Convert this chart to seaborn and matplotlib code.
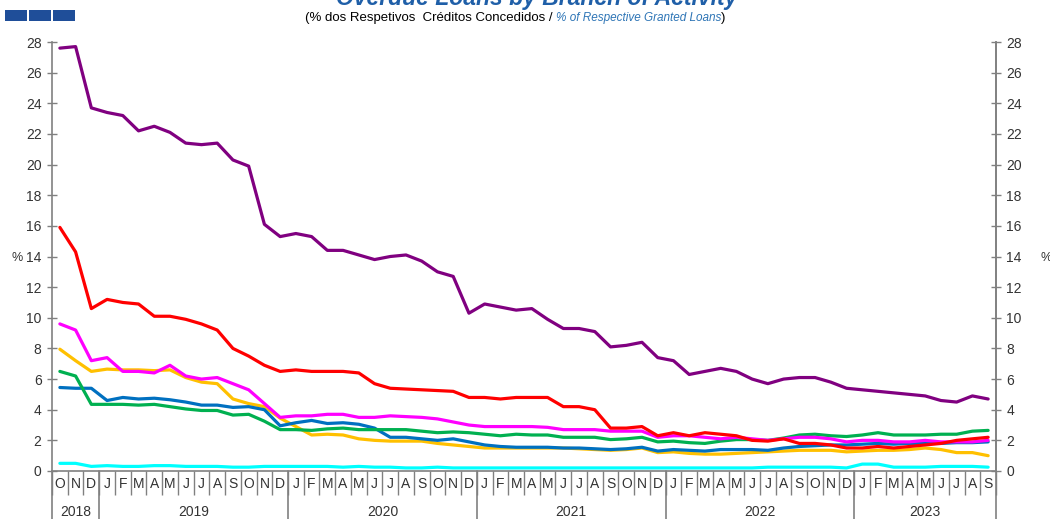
import numpy as np
import pandas as pd
import seaborn as sns
import matplotlib.pyplot as plt
from matplotlib.patches import Rectangle
from matplotlib.transforms import blended_transform_factory

# monthly series, Oct 2018 .. Sep 2023
month_letters = list("OND") + list("JFMAMJJASOND") * 4 + list("JFMAMJJAS")
years = ["2018", "2019", "2020", "2021", "2022", "2023"]
year_counts = [3, 12, 12, 12, 12, 9]

purple = [27.6, 27.7, 23.7, 23.4, 23.2, 22.2, 22.5, 22.1, 21.4, 21.3, 21.4, 20.3,
          19.9, 16.1, 15.3, 15.5, 15.3, 14.4, 14.4, 14.1, 13.8, 14.0, 14.1, 13.7,
          13.0, 12.7, 10.3, 10.9, 10.7, 10.5, 10.6, 9.9, 9.3, 9.3, 9.1, 8.1,
          8.2, 8.4, 7.4, 7.2, 6.3, 6.5, 6.7, 6.5, 6.0, 5.7, 6.0, 6.1,
          6.1, 5.8, 5.4, 5.3, 5.2, 5.1, 5.0, 4.9, 4.6, 4.5, 4.9, 4.7]
red = [15.9, 14.3, 10.6, 11.2, 11.0, 10.9, 10.1, 10.1, 9.9, 9.6, 9.2, 8.0,
       7.5, 6.9, 6.5, 6.6, 6.5, 6.5, 6.5, 6.4, 5.7, 5.4, 5.35, 5.3,
       5.25, 5.2, 4.8, 4.8, 4.7, 4.8, 4.8, 4.8, 4.2, 4.2, 4.0, 2.8,
       2.8, 2.9, 2.3, 2.5, 2.3, 2.5, 2.4, 2.3, 2.0, 1.95, 2.1, 1.8,
       1.8, 1.7, 1.5, 1.5, 1.6, 1.5, 1.6, 1.7, 1.8, 2.0, 2.1, 2.2]
magenta = [9.6, 9.2, 7.2, 7.4, 6.5, 6.5, 6.4, 6.9, 6.2, 6.0, 6.1, 5.7,
           5.3, 4.4, 3.5, 3.6, 3.6, 3.7, 3.7, 3.5, 3.5, 3.6, 3.55, 3.5,
           3.4, 3.2, 3.0, 2.9, 2.9, 2.9, 2.9, 2.85, 2.7, 2.7, 2.7, 2.6,
           2.6, 2.6, 2.2, 2.3, 2.3, 2.2, 2.1, 2.2, 2.1, 2.0, 2.1, 2.2,
           2.2, 2.1, 1.9, 2.0, 2.0, 1.9, 1.9, 2.0, 1.9, 1.9, 1.9, 2.0]
yellow = [7.95, 7.2, 6.5, 6.65, 6.6, 6.6, 6.55, 6.6, 6.1, 5.8, 5.7, 4.7,
          4.4, 4.2, 3.45, 2.9, 2.35, 2.4, 2.35, 2.1, 2.0, 1.95, 1.95, 1.95,
          1.8, 1.7, 1.6, 1.5, 1.5, 1.5, 1.5, 1.5, 1.5, 1.45, 1.4, 1.35,
          1.4, 1.5, 1.2, 1.25, 1.15, 1.1, 1.1, 1.15, 1.2, 1.25, 1.3, 1.35,
          1.35, 1.35, 1.25, 1.3, 1.35, 1.35, 1.4, 1.5, 1.4, 1.2, 1.2, 1.0]
green = [6.5, 6.2, 4.35, 4.35, 4.35, 4.3, 4.35, 4.2, 4.05, 3.95, 3.95, 3.65,
         3.7, 3.25, 2.7, 2.7, 2.65, 2.75, 2.8, 2.7, 2.7, 2.7, 2.7, 2.6,
         2.5, 2.55, 2.5, 2.4, 2.3, 2.4, 2.35, 2.35, 2.2, 2.2, 2.2, 2.05,
         2.1, 2.2, 1.9, 1.95, 1.85, 1.8, 1.95, 2.05, 2.05, 2.0, 2.15, 2.35,
         2.4, 2.3, 2.25, 2.35, 2.5, 2.35, 2.35, 2.35, 2.4, 2.4, 2.6, 2.65]
blue = [5.45, 5.4, 5.4, 4.6, 4.8, 4.7, 4.75, 4.65, 4.5, 4.3, 4.3, 4.15,
        4.2, 4.0, 2.95, 3.15, 3.3, 3.1, 3.15, 3.05, 2.8, 2.2, 2.2, 2.1,
        2.0, 2.1, 1.9, 1.7, 1.6, 1.55, 1.55, 1.55, 1.5, 1.5, 1.45, 1.4,
        1.45, 1.55, 1.3, 1.4, 1.35, 1.3, 1.4, 1.4, 1.4, 1.35, 1.5, 1.6,
        1.65, 1.7, 1.7, 1.75, 1.8, 1.75, 1.8, 1.8, 1.8, 1.85, 1.85, 1.9]
cyan = [0.5, 0.5, 0.3, 0.35, 0.3, 0.3, 0.35, 0.35, 0.3, 0.3, 0.3, 0.25,
        0.25, 0.3, 0.3, 0.3, 0.3, 0.3, 0.25, 0.3, 0.25, 0.25, 0.2, 0.2,
        0.25, 0.2, 0.2, 0.2, 0.2, 0.2, 0.2, 0.2, 0.2, 0.2, 0.2, 0.2,
        0.2, 0.2, 0.2, 0.2, 0.2, 0.2, 0.2, 0.2, 0.2, 0.25, 0.25, 0.25,
        0.25, 0.25, 0.2, 0.45, 0.45, 0.25, 0.25, 0.25, 0.3, 0.3, 0.3, 0.25]

series = {"purple": purple, "red": red, "magenta": magenta, "yellow": yellow,
          "green": green, "blue": blue, "cyan": cyan}
colors = {"purple": "#800080", "red": "#FF0000", "magenta": "#FF00FF",
          "yellow": "#FFC000", "green": "#00B050", "blue": "#0070C0",
          "cyan": "#00FFFF"}

n = len(month_letters)
df = pd.concat([pd.DataFrame({"month": np.arange(n), "value": v, "series": k})
                for k, v in series.items()])

sns.set_style("white")
plt.rcParams["font.family"] = ["Liberation Sans", "DejaVu Sans"]

fig = plt.figure(figsize=(10.5, 5.19), dpi=100)
ax = fig.add_axes([52 / 1050, 48 / 519, 944 / 1050, 429 / 519])

# draw order: lower lines first so purple / red sit on top
order = ["cyan", "yellow", "blue", "green", "magenta", "red", "purple"]
sns.lineplot(data=df, x="month", y="value", hue="series", hue_order=order,
             palette=colors, linewidth=2.3, legend=False, ax=ax)

grey = "#808080"
ax.set_xlim(-0.5, n - 0.5)
ax.set_ylim(0, 28)
ax.set_yticks(range(0, 29, 2))
ax.set_xlabel("")
ax.set_ylabel("")
ax.spines["top"].set_visible(False)
for s in ["left", "right", "bottom"]:
    ax.spines[s].set_color(grey)
    ax.spines[s].set_linewidth(1.2)

ax.tick_params(axis="y", direction="inout", length=7, width=1, color=grey,
               labelsize=10, labelcolor="#333333", pad=4, left=True)
# month separators as major ticks, letters as minor tick labels
ax.set_xticks(np.arange(n + 1) - 0.5)
ax.set_xticklabels([])
ax.tick_params(axis="x", which="major", direction="out", length=17,
               width=1, color=grey, bottom=True)
ax.set_xticks(np.arange(n), minor=True)
ax.set_xticklabels(month_letters, minor=True)
ax.tick_params(axis="x", which="minor", length=0, labelsize=10,
               labelcolor="#333333", pad=4)

ax2 = ax.twinx()
ax2.set_ylim(0, 28)
ax2.set_yticks(range(0, 29, 2))
ax2.tick_params(axis="y", direction="inout", length=7, width=1, color=grey,
                labelsize=10, labelcolor="#333333", pad=4)
for s in ["top", "left", "bottom"]:
    ax2.spines[s].set_visible(False)
ax2.spines["right"].set_color(grey)
ax2.spines["right"].set_linewidth(1.2)

# year separators and labels
trans = blended_transform_factory(ax.transData, ax.transAxes)
bounds = np.concatenate([[0], np.cumsum(year_counts)]) - 0.5
for b in bounds:
    ax.plot([b, b], [0, -0.115], transform=trans, color=grey, lw=1.2,
            clip_on=False)
for y, lo, hi in zip(years, bounds[:-1], bounds[1:]):
    ax.text((lo + hi) / 2, -0.095, y, transform=trans, ha="center",
            va="center", fontsize=10, color="#333333")

fig.text(17 / 1050, 1 - 258 / 519, "%", ha="center", va="center",
         fontsize=9, color="#333333")
fig.text(1046 / 1050, 1 - 258 / 519, "%", ha="center", va="center",
         fontsize=9, color="#333333")

# header (title sits partly above the top edge, as in the source)
fig.text(537 / 1050, 1 - 5 / 519, "Overdue Loans by Branch of Activity",
         ha="center", va="baseline", fontsize=16.5, fontweight="bold",
         fontstyle="italic", color="#1F5FA8")
for i in range(3):
    fig.patches.append(Rectangle(((5 + 24 * i) / 1050, 1 - 21 / 519),
                                 22 / 1050, 11 / 519, transform=fig.transFigure,
                                 facecolor="#1F4E99", edgecolor="none"))

parts = [("(% dos Respetivos  Créditos Concedidos / ", "black", "normal", 9.5),
         ("% of Respective Granted Loans", "#2E75B6", "italic", 8.5),
         (")", "black", "normal", 9.5)]
fig.canvas.draw()
r = fig.canvas.get_renderer()
texts = []
for s, c, st, fs in parts:
    t = fig.text(0, 1 - 18 / 519, s, color=c, fontstyle=st, fontsize=fs,
                 va="center", ha="left")
    texts.append(t)
widths = [t.get_window_extent(r).width for t in texts]
x = 515 - sum(widths) / 2
for t, w in zip(texts, widths):
    t.set_x(x / 1050)
    x += w

fig.savefig("out.png", dpi=100)
